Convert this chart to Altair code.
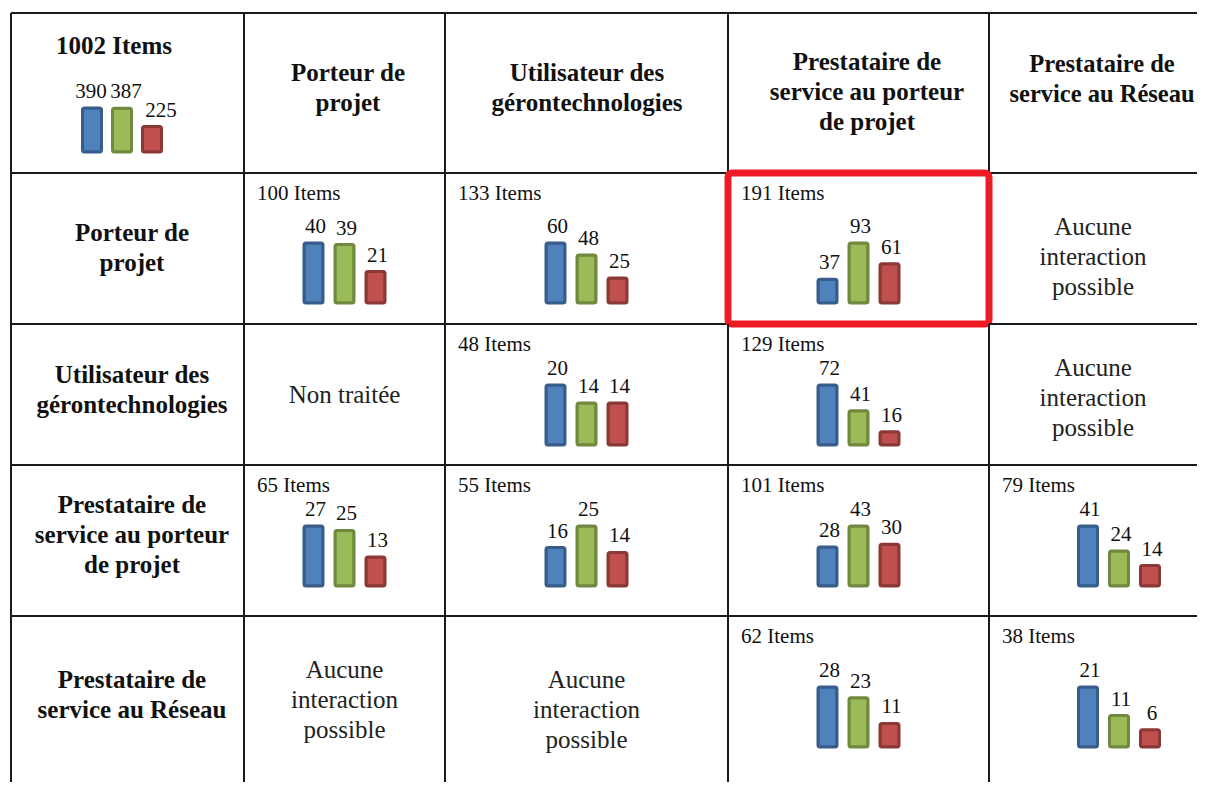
import altair as alt
import pandas as pd

# ---------------- data ----------------
SERIES = ["s1", "s2", "s3"]
FILL = ["#4F81BD", "#9BBB59", "#C0504D"]
EDGE = ["#385D8A", "#71893F", "#8C3836"]

HEADERS = [
    "Porteur de\nprojet",
    "Utilisateur des\ngérontechnologies",
    "Prestataire de\nservice au porteur\nde projet",
    "Prestataire de\nservice au Réseau",
]

TOTAL_ITEMS = 1002
TOTAL_VALUES = [390, 387, 225]

ITEMS = [
    [100, 133, 191, None],
    [None, 48, 129, None],
    [65, 55, 101, 79],
    [None, None, 62, 38],
]
VALUES = [
    [[40, 39, 21], [60, 48, 25], [37, 93, 61], None],
    [None, [20, 14, 14], [72, 41, 16], None],
    [[27, 25, 13], [16, 25, 14], [28, 43, 30], [41, 24, 14]],
    [None, None, [28, 23, 11], [21, 11, 6]],
]
NONE_TXT = "Aucune\ninteraction\npossible"
NOTES = [
    [None, None, None, NONE_TXT],
    ["Non traitée", None, None, NONE_TXT],
    [None, None, None, None],
    [NONE_TXT, NONE_TXT, None, None],
]
HIGHLIGHT = (1, 3)  # grid row, grid col

# ---------------- layout / style ----------------
COL_W = [233, 201, 283, 261, 208]
ROW_H = [160, 151, 141, 151, 166]
COL_HDR_X = [None, 104, 142, 139, 113]      # centre of column header text
COL_HDR_Y = [None, 75, 75, 79, 67]         # vertical centre of column header block
COL_HDR_SIZE = [None, 25, 25, 25, 24.5]
ROW_HDR_X = 121
ROW_HDR_Y = [None, 75, 66, 70, 79]
BAR_CX = [111, None, None, None, 130]     # bar group centre (None = middle of cell)
BASE_OFF = {0: 21, 1: 21, 2: 20, 3: 30}   # bar baseline above cell bottom
LAST_BASE = 131                            # bar baseline from top in last row
NOTE_Y = {(1, 4): 84, (2, 1): 71, (2, 4): 74, (4, 1): 84, (4, 2): 94}
SERIF = "Liberation Serif"
LINE = "#1a1a1a"
BAR_H = 60
LH = 30

ONE = pd.DataFrame({"k": [0]})


def txt(t, x, y, size, bold=False, align="center", baseline="middle", color="#111"):
    n = t.count("\n") + 1
    y0 = y - (n - 1) * LH / 2 if baseline == "middle" else y
    return alt.Chart(pd.DataFrame({"t": [t]})).mark_text(
        font=SERIF, fontSize=size, fontWeight="bold" if bold else "normal",
        align=align, baseline=baseline, lineBreak="\n", lineHeight=LH, color=color,
    ).encode(text="t:N", x=alt.value(x), y=alt.value(y0))


def bars(values, cx, base, H, step=31, lab_cx=None, lab_step=None):
    df = pd.DataFrame({"s": SERIES, "v": values})
    lab_cx = cx + 2 if lab_cx is None else lab_cx
    lab_step = step if lab_step is None else lab_step
    xs = alt.Scale(domain=SERIES, range=[cx - 1.5 * step, cx + 1.5 * step], paddingInner=0, paddingOuter=0)
    xl = alt.Scale(domain=SERIES, range=[lab_cx - 1.5 * lab_step, lab_cx + 1.5 * lab_step],
                   paddingInner=0, paddingOuter=0)
    ys = alt.Scale(domain=[0, max(values)], range=[base, base - H], nice=False, zero=True)
    b = alt.Chart(df).mark_bar(size=19, strokeWidth=3, cornerRadius=2).encode(
        x=alt.X("s:N", scale=xs, axis=None),
        y=alt.Y("v:Q", scale=ys, axis=None),
        fill=alt.Fill("s:N", scale=alt.Scale(domain=SERIES, range=FILL), legend=None),
        stroke=alt.Stroke("s:N", scale=alt.Scale(domain=SERIES, range=EDGE), legend=None),
    )
    lab = alt.Chart(df).mark_text(
        font=SERIF, fontSize=21, baseline="alphabetic", dy=-10, color="#111"
    ).encode(
        x=alt.X("s:N", scale=xl, axis=None),
        y=alt.Y("v:Q", scale=ys, axis=None),
        text="v:Q",
    )
    return [b, lab.resolve_scale(x="independent")] if False else [b, lab]


def rule_v(x, h):
    return alt.Chart(ONE).mark_rule(color=LINE, strokeWidth=2).encode(
        x=alt.value(x), y=alt.value(0), y2=alt.value(h))


def rule_h(y, w):
    return alt.Chart(ONE).mark_rule(color=LINE, strokeWidth=2).encode(
        y=alt.value(y), x=alt.value(0), x2=alt.value(w))


def cell(gr, gc):
    w, h = COL_W[gc], ROW_H[gr]
    layers = []
    if gc == 0:
        layers.append(rule_v(0, h))
    if gr == 0:
        layers.append(rule_h(0, w))
    if gc < 4:
        layers.append(rule_v(w, h))
    if gr < 4:
        layers.append(rule_h(h, w))

    base = h - BASE_OFF[gr] if gr in BASE_OFF else LAST_BASE
    cx = BAR_CX[gc] if BAR_CX[gc] is not None else w / 2

    if gr == 0 and gc == 0:
        layers.append(txt(f"{TOTAL_ITEMS} Items", 45, 41, 25, bold=True, align="left", baseline="alphabetic"))
        layers += bars(TOTAL_VALUES, cx, base, 44, step=30, lab_cx=cx + 4, lab_step=35)
    elif gr == 0:
        layers.append(txt(HEADERS[gc - 1], COL_HDR_X[gc], COL_HDR_Y[gc], COL_HDR_SIZE[gc], bold=True))
    elif gc == 0:
        layers.append(txt(HEADERS[gr - 1], ROW_HDR_X, ROW_HDR_Y[gr], 25, bold=True))
    else:
        r, c = gr - 1, gc - 1
        if ITEMS[r][c] is not None:
            layers.append(txt(f"{ITEMS[r][c]} Items", 13, 27, 21, align="left", baseline="alphabetic"))
            layers += bars(VALUES[r][c], cx, base, BAR_H)
        elif NOTES[r][c] is not None:
            layers.append(txt(NOTES[r][c], w / 2, NOTE_Y[(gr, gc)], 25, color="#222"))

    if (gr, gc) == HIGHLIGHT:
        layers.append(
            alt.Chart(ONE).mark_rect(fillOpacity=0, stroke="#ED1C24", strokeWidth=7, cornerRadius=4).encode(
                x=alt.value(0), x2=alt.value(w), y=alt.value(0), y2=alt.value(h))
        )
    return alt.layer(*layers).properties(width=w, height=h).resolve_scale(x="independent")


cells = [cell(gr, gc) for gr in range(5) for gc in range(5)]

chart = alt.concat(*cells, columns=5, spacing=0, bounds="flush").properties(
    padding={"left": 2, "top": 4, "right": 0, "bottom": 0},
    background="white",
).configure_view(strokeWidth=0)

chart.save("out.html", embed_options={"renderer": "svg", "actions": False})
